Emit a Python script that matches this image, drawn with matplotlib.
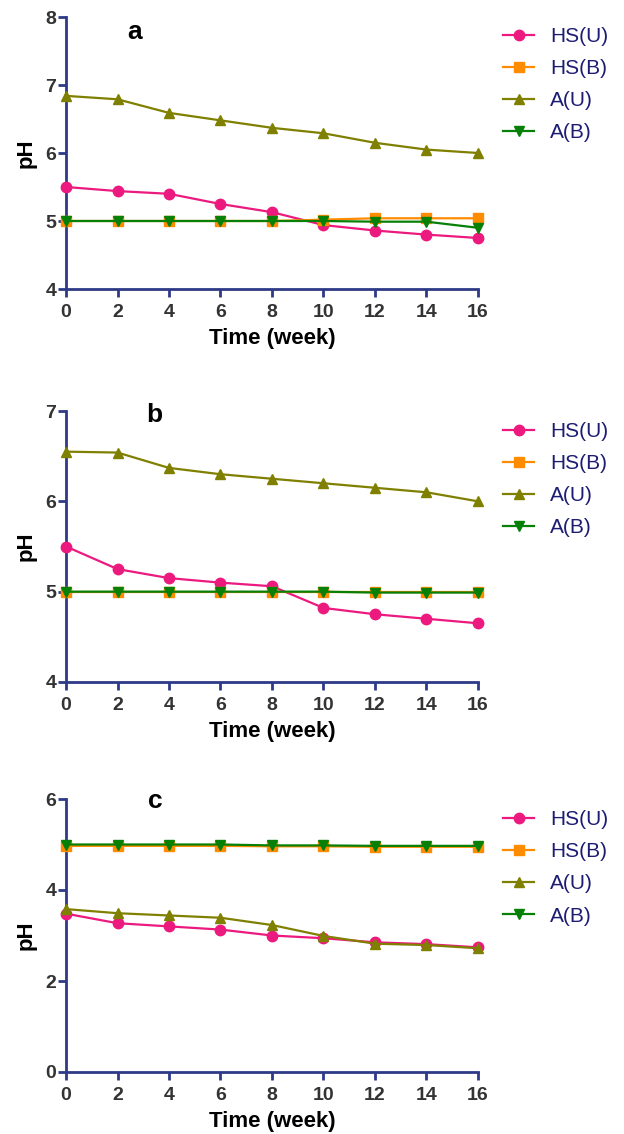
import matplotlib
matplotlib.use("Agg")
import matplotlib.pyplot as plt

plt.rcParams['font.family'] = ['Liberation Sans', 'DejaVu Sans']

weeks = [0, 2, 4, 6, 8, 10, 12, 14, 16]
series_names = ["HS(U)", "HS(B)", "A(U)", "A(B)"]

# Panel a
a_hsu = [5.50, 5.44, 5.40, 5.25, 5.13, 4.94, 4.86, 4.80, 4.75]
a_hsb = [5.00, 5.00, 5.00, 5.00, 5.00, 5.02, 5.04, 5.04, 5.04]
a_au = [6.84, 6.79, 6.59, 6.48, 6.37, 6.29, 6.15, 6.05, 6.00]
a_ab = [5.00, 5.00, 5.00, 5.00, 5.00, 5.00, 4.99, 4.99, 4.90]

# Panel b
b_hsu = [5.50, 5.25, 5.15, 5.10, 5.06, 4.82, 4.75, 4.70, 4.65]
b_hsb = [5.00, 5.00, 5.00, 5.00, 5.00, 5.00, 5.00, 5.00, 5.00]
b_au = [6.55, 6.54, 6.37, 6.30, 6.25, 6.20, 6.15, 6.10, 6.00]
b_ab = [5.00, 5.00, 5.00, 5.00, 5.00, 5.00, 4.99, 4.99, 4.99]

# Panel c
c_hsu = [3.48, 3.27, 3.20, 3.13, 3.00, 2.94, 2.85, 2.81, 2.74]
c_hsb = [4.97, 4.97, 4.97, 4.97, 4.96, 4.96, 4.95, 4.95, 4.95]
c_au = [3.58, 3.49, 3.44, 3.39, 3.23, 2.99, 2.82, 2.79, 2.72]
c_ab = [5.00, 5.00, 5.00, 5.00, 4.98, 4.98, 4.97, 4.97, 4.97]

panel_labels = ["a", "b", "c"]
panels = [
    (a_hsu, a_hsb, a_au, a_ab),
    (b_hsu, b_hsb, b_au, b_ab),
    (c_hsu, c_hsb, c_au, c_ab),
]
ylims = [(4, 8), (4, 7), (0, 6)]
yticks = [[4, 5, 6, 7, 8], [4, 5, 6, 7], [0, 2, 4, 6]]

colors = ["#EC1A7F", "#FF8C00", "#808000", "#068006"]
markers = ["o", "s", "^", "v"]
msizes = [7.5, 7, 7.5, 7.5]
axis_color = "#2E3A87"
text_color = "#333333"
legend_text_color = "#1C1C73"

fig = plt.figure(figsize=(6.24, 11.34), dpi=100)
W, H = 624, 1134
boxes = [(66, 17, 478, 289), (66, 411, 478, 682), (66, 799, 478, 1072)]
legend_tops = [0.963, 0.959, 0.959]
label_pos = [(0.167, 0.919), (0.214, 0.959), (0.216, 0.967)]

for i, (box, data) in enumerate(zip(boxes, panels)):
    l, t, r, b = box
    ax = fig.add_axes([l / W, 1 - b / H, (r - l) / W, (b - t) / H])
    for vals, name, col, mk, ms in zip(data, series_names, colors, markers, msizes):
        ax.plot(weeks, vals, color=col, marker=mk, markersize=ms,
                linewidth=1.6, label=name, clip_on=False, zorder=3)
    ax.set_xlim(0, 16)
    ax.set_ylim(*ylims[i])
    ax.set_xticks(weeks)
    ax.set_yticks(yticks[i])
    for s in ["top", "right"]:
        ax.spines[s].set_visible(False)
    for s in ["left", "bottom"]:
        ax.spines[s].set_color(axis_color)
        ax.spines[s].set_linewidth(2)
    ax.tick_params(axis="both", direction="out", length=6, width=2, color=axis_color,
                   labelsize=14, labelcolor=text_color)
    ax.tick_params(axis="x", pad=4.5)
    ax.tick_params(axis="y", pad=1.0)
    for lab in ax.get_xticklabels() + ax.get_yticklabels():
        lab.set_fontweight("bold")
    ax.set_xlabel("Time (week)", fontsize=16, fontweight="bold", color="black", labelpad=5)
    ax.set_ylabel("pH", fontsize=16, fontweight="bold", color="black", labelpad=6)
    ax.text(label_pos[i][0], label_pos[i][1], panel_labels[i], transform=ax.transAxes,
            fontsize=19, fontweight="bold", ha="center", va="baseline")
    leg = ax.legend(loc="upper left", bbox_to_anchor=(1.061, legend_tops[i]), frameon=False,
                    fontsize=15, handlelength=1.5, handletextpad=0.75, labelspacing=0.63,
                    borderaxespad=0, borderpad=0)
    for txt in leg.get_texts():
        txt.set_color(legend_text_color)

fig.savefig("out.png", dpi=100)
